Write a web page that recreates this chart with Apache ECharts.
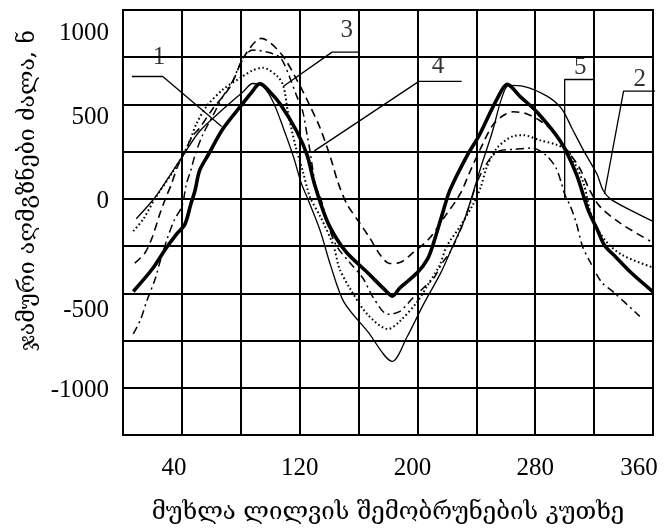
<!DOCTYPE html>
<html lang="ka">
<head>
<meta charset="UTF-8">
<title>chart</title>
<script src="https://cdn.jsdelivr.net/npm/echarts@6.0.0/dist/echarts.min.js"></script>
<style>
  html, body { margin: 0; padding: 0; background: #fff; }
  #chart { width: 664px; height: 530px; }
</style>
</head>
<body>
<div id="chart"></div>
<script>
  // [crank angle, force N]
  var curve1 = [[7,-490],[20,-370],[29,-264],[36,-190],[42,-135],[46,-30],[49,47],[52,150],[58,235],[68,372],[80,492],[87,560],[93,610],[100,565],[107,500],[118,358],[125,233],[130,80],[138,-105],[145,-210],[152,-285],[166,-390],[179,-490],[183,-515],[188,-472],[200,-390],[207,-316],[211,-233],[217,-78],[222,45],[234,233],[242,337],[254,528],[261,606],[270,540],[281,461],[297,306],[308,130],[316,-60],[322,-160],[327,-245],[335,-310],[345,-390],[360,-492]];
  var curve2 = [[9,-105],[22,10],[34,150],[42,244],[52,358],[66,461],[82,570],[88,611],[95,596],[102,513],[109,373],[116,218],[121,85],[126,-10],[134,-170],[141,-352],[150,-545],[166,-700],[183,-860],[193,-730],[204,-560],[216,-389],[224,-250],[232,-109],[243,166],[251,358],[257,528],[262,601],[272,596],[288,544],[298,477],[305,373],[313,254],[322,130],[326,47],[331,0],[344,-57],[360,-119]];
  var curve3 = [[7,-171],[14,-104],[22,5],[34,145],[42,250],[46,320],[50,400],[57,492],[68,580],[80,642],[88,680],[95,694],[105,648],[109,596],[112,461],[117,285],[122,150],[127,10],[134,-93],[143,-249],[147,-368],[154,-472],[166,-611],[180,-689],[188,-648],[200,-544],[207,-456],[215,-352],[220,-249],[229,-145],[238,-26],[243,62],[247,166],[254,269],[265,332],[272,337],[283,311],[295,285],[302,254],[306,202],[313,78],[319,-109],[329,-233],[340,-301],[360,-363]];
  var curve4 = [[8,-340],[15,-285],[20,-200],[25,-80],[29,5],[33,80],[37,170],[42,250],[47,330],[52,375],[61,477],[73,596],[82,750],[94,850],[107,772],[118,632],[127,492],[134,373],[141,218],[146,88],[152,-26],[161,-130],[168,-212],[175,-300],[181,-342],[188,-337],[197,-285],[208,-210],[218,-100],[229,26],[236,150],[244,285],[251,389],[258,440],[265,461],[274,451],[283,415],[292,358],[302,254],[310,166],[317,47],[324,-41],[338,-130],[358,-223]];
  var curve5 = [[7,-715],[12,-637],[16,-544],[22,-420],[25,-337],[30,-212],[35,-109],[40,-41],[43,78],[46,150],[49,233],[54,337],[61,440],[68,544],[75,632],[80,720],[88,788],[98,777],[107,746],[113,648],[118,544],[122,466],[125,340],[127,254],[129,150],[131,60],[134,10],[139,-130],[145,-249],[154,-337],[163,-420],[170,-523],[180,-611],[188,-596],[197,-523],[204,-472],[211,-420],[217,-337],[222,-285],[230,-150],[236,-20],[240,80],[245,160],[250,220],[256,255],[265,262],[278,269],[287,233],[294,166],[298,78],[300,26],[304,-41],[308,-130],[312,-249],[317,-330],[325,-440],[333,-492],[351,-622]];

  // callout leader lines and their numbers
  var leader1 = [[6,648],[27,648],[67,383]];
  var leader2 = [[368,570],[340,570],[327,26]];
  var leader3 = [[109,596],[142,777],[160,777]];
  var leader4 = [[130,254],[201,622],[230,622]];
  var leader5 = [[300,0],[300,632],[320,632]];
  var callouts = [[24.5,751,'1'],[351,632,'2'],[152,891,'3'],[214,700,'4'],[310.5,694,'5']];

  var xTicks = [40, 120, 200, 280, 360];
  var yTicks = [1000, 500, 0, -500, -1000];

  var numFont = 'Liberation Serif';
  var geoFont = 'DejaVu Serif';

  function curve(data, width, type) {
    return {
      type: 'line', data: data, symbol: 'none', smooth: 0.3, silent: true,
      lineStyle: { color: '#000', width: width, type: type, cap: 'butt' }
    };
  }
  function leader(data) {
    return {
      type: 'line', data: data, symbol: 'none', silent: true, clip: false,
      lineStyle: { color: '#000', width: 1.3 }
    };
  }

  var series = [
    curve(curve2, 1.3, 'solid'),
    curve(curve3, 2, [1.6, 2.6]),
    curve(curve4, 1.6, [8, 5]),
    curve(curve5, 1.5, [8, 4, 2, 4]),
    curve(curve1, 3.6, 'solid')
  ];
  [leader1, leader2, leader3, leader4, leader5].forEach(function (l) { series.push(leader(l)); });
  series.push({
    type: 'scatter', data: callouts, symbolSize: 1, silent: true, clip: false,
    itemStyle: { color: 'rgba(0,0,0,0)' },
    label: {
      show: true, position: 'inside', color: '#000', fontFamily: numFont, fontSize: 25,
      formatter: function (p) { return p.data[2]; }
    }
  });

  var yShiftKey = { '1000': 'a', '500': 'b', '0': 'c', '-500': 'd', '-1000': 'c' };
  var xShiftKey = { '40': 'l', '120': 'n', '200': 'm', '280': 'n', '360': 'r' };
  function numStyle(pad) {
    return { fontFamily: numFont, fontSize: 25, color: '#000', padding: pad };
  }

  var chart = echarts.init(document.getElementById('chart'), null, { renderer: 'canvas' });
  chart.setOption({
    animation: false,
    backgroundColor: '#fff',
    grid: { left: 123, right: 11, top: 10, bottom: 90, show: true, borderColor: '#000', borderWidth: 2 },
    xAxis: {
      type: 'value', min: 0, max: 360, interval: 40,
      name: 'მუხლა ლილვის შემობრუნების კუთხე', nameLocation: 'middle', nameGap: 66,
      nameTextStyle: { fontFamily: geoFont, fontSize: 24, color: '#000' },
      axisLine: { show: true, lineStyle: { color: '#000', width: 2 } },
      axisTick: { show: false },
      splitLine: { show: true, lineStyle: { color: '#000', width: 2 } },
      axisLabel: {
        margin: 21, color: '#000', fontFamily: numFont, fontSize: 25,
        formatter: function (v) {
          return xTicks.indexOf(v) >= 0 ? '{' + xShiftKey[v] + '|' + v + '}' : '';
        },
        rich: {
          l: numStyle([0, 16, 0, 0]), m: numStyle([0, 10, 0, 0]),
          n: numStyle([0, 0, 0, 0]), r: numStyle([0, 28, 0, 0])
        }
      }
    },
    yAxis: {
      type: 'value', min: -1250, max: 1000, interval: 250,
      name: 'ჯამური აღმგზნები ძალა, ნ', nameLocation: 'middle', nameGap: 80,
      nameTextStyle: { fontFamily: geoFont, fontSize: 23, color: '#000', padding: [0, 0, 0, 64] },
      axisLine: { show: true, lineStyle: { color: '#000', width: 2 } },
      axisTick: { show: false },
      splitLine: { show: true, lineStyle: { color: '#000', width: 2 } },
      axisLabel: {
        margin: 14, color: '#000', fontFamily: numFont, fontSize: 25,
        formatter: function (v) {
          return yTicks.indexOf(v) >= 0 ? '{' + yShiftKey[v] + '|' + v + '}' : '';
        },
        rich: {
          a: numStyle([46, 0, 0, 0]), b: numStyle([26, 0, 0, 0]),
          c: numStyle([6, 0, 0, 0]), d: numStyle([34, 0, 0, 0])
        }
      }
    },
    series: series
  });
</script>
</body>
</html>
